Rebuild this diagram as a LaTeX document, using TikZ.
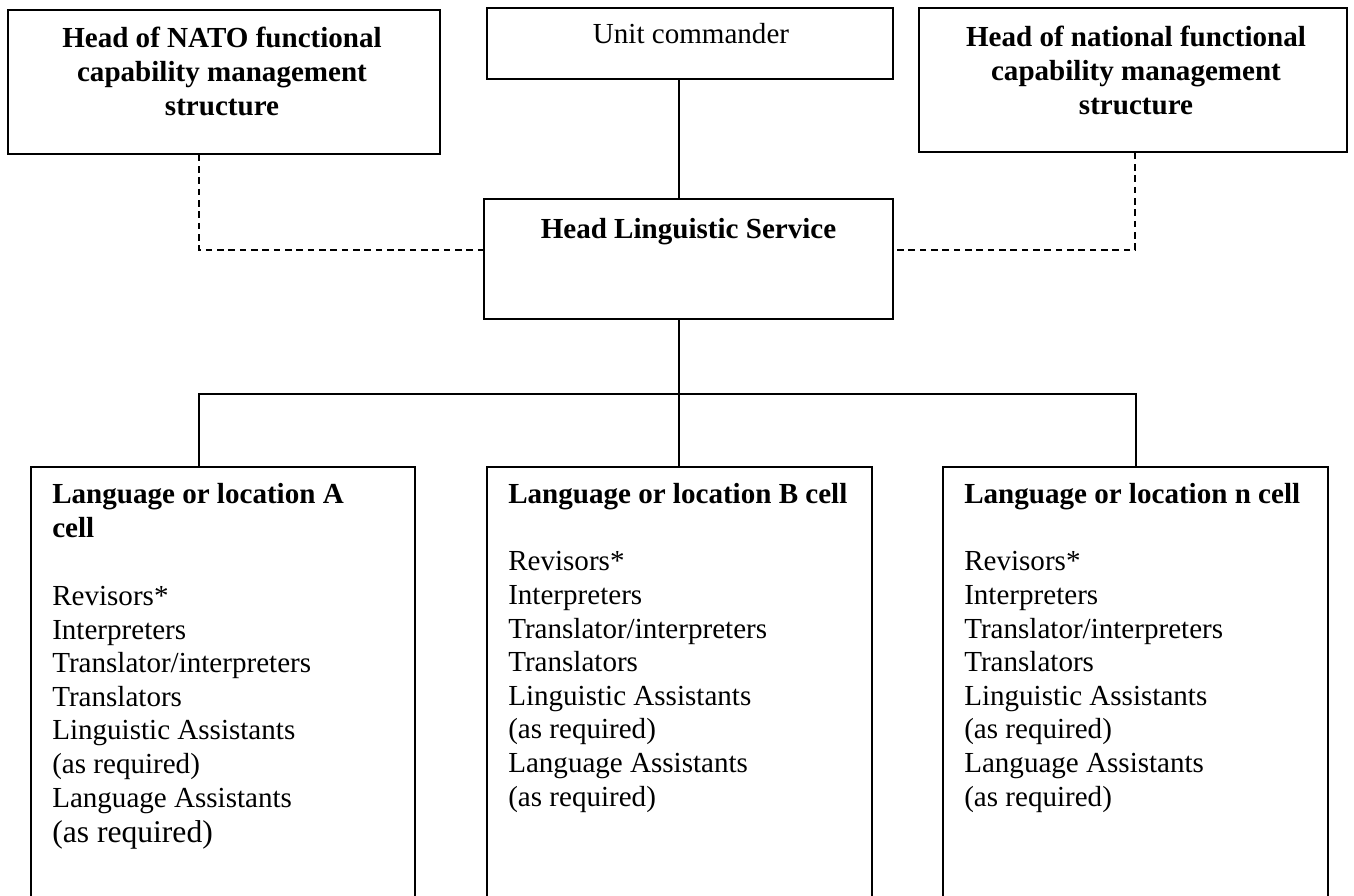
\documentclass[tikz,border=0pt]{standalone}
\usepackage{fontspec}
\setmainfont{Liberation Serif}
\usetikzlibrary{fit}
\begin{document}
\begin{tikzpicture}[x=0.75pt,y=-0.75pt,
  box/.style={draw, line width=1.2pt, rectangle, inner sep=0pt},
  conn/.style={line width=1.2pt},
  dconn/.style={line width=1.2pt, dash pattern=on 5pt off 3.5pt},
  txt/.style={inner sep=0pt, font=\fontsize{21.8}{25.2}\selectfont},
  btxt/.style={inner sep=0pt, font=\fontsize{21.8}{25.2}\selectfont\bfseries},
  bigtxt/.style={inner sep=0pt, font=\fontsize{23.7}{26.5}\selectfont}
]
\useasboundingbox (0,0) rectangle (1354,896);
\clip (0,0) rectangle (1354,896);

% boxes
\node[box, fit={(8,10)(440,154)}] (nato) {};
\node[box, fit={(487,8)(893,79)}] (unit) {};
\node[box, fit={(919,8)(1347,152)}] (natl) {};
\node[box, fit={(484,199)(893,319)}] (hls) {};
\node[box, fit={(31,467)(415,900)}] (cellA) {};
\node[box, fit={(487,467)(872,900)}] (cellB) {};
\node[box, fit={(943,467)(1328,900)}] (celln) {};

% box texts (multi-line nodes are anchored at the baseline of their last line)
\node[btxt, align=center, anchor=base] (natot) at (222,115) {Head of NATO functional\\capability management\\structure};
\node[txt, anchor=base] (unitt) at (691,43) {Unit commander};
\node[btxt, align=center, anchor=base] (natlt) at (1136,114) {Head of national functional\\capability management\\structure};
\node[btxt, anchor=base] (hlst) at (688.5,238) {Head Linguistic Service};

\node[btxt, align=left, anchor=base west] (cAh) at (52,537) {Language or location A\\cell};
\node[txt, align=left, anchor=base west] (cAl) at (52,807) {Revisors*\\Interpreters\\Translator/interpreters\\Translators\\Linguistic Assistants\\(as required)\\Language Assistants};
\node[bigtxt, anchor=base west] (cAr) at (52,842) {(as required)};

\node[btxt, anchor=base west] (cBh) at (508,503) {Language or location B cell};
\node[txt, align=left, anchor=base west] (cBl) at (508,806) {Revisors*\\Interpreters\\Translator/interpreters\\Translators\\Linguistic Assistants\\(as required)\\Language Assistants\\(as required)};

\node[btxt, anchor=base west] (cnh) at (964,503) {Language or location n cell};
\node[txt, align=left, anchor=base west] (cnl) at (964,806) {Revisors*\\Interpreters\\Translator/interpreters\\Translators\\Linguistic Assistants\\(as required)\\Language Assistants\\(as required)};

% connectors
\coordinate (lj) at (199,250);
\coordinate (rj) at (1135,250);
\draw[dconn] (nato.south -| lj) -- (lj) -- (lj -| hls.west);
\draw[dconn] (natl.south -| rj) -- (rj) -- (rj -| hls.east);

\coordinate (sp) at (679,394);
\coordinate (ja) at (199,394);
\coordinate (jn) at (1136,394);
\draw[conn] (sp |- unit.south) -- (sp |- hls.north);
\draw[conn] (sp |- hls.south) -- (sp);
\draw[conn] (ja |- cellA.north) -- (ja) -- (jn) -- (jn |- celln.north);
\draw[conn] (sp) -- (sp |- cellB.north);
\end{tikzpicture}
\end{document}
